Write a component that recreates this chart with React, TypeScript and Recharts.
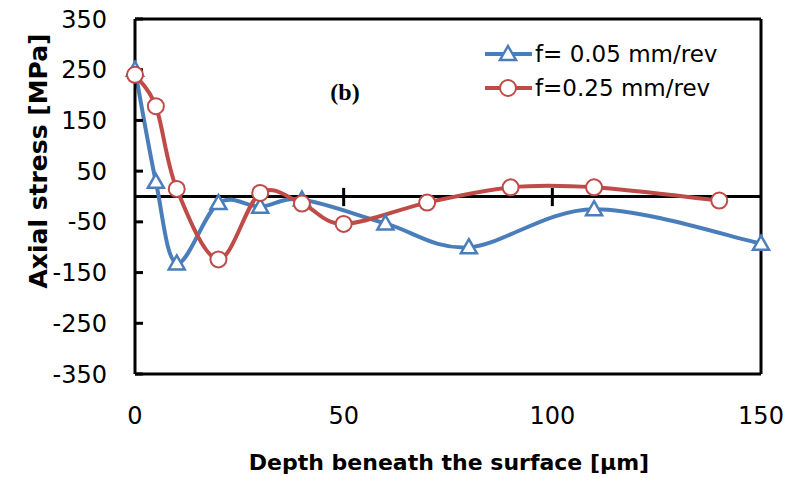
import React from "react";
import { LineChart, Line, XAxis, YAxis, ReferenceLine } from "recharts";

// f = 0.05 mm/rev
const FINE_DEPTH = [0, 5, 10, 20, 30, 40, 60, 80, 110, 150];
const FINE_STRESS = [250, 29, -132, -13, -20, -6, -53, -100, -25, -93];

// f = 0.25 mm/rev
const COARSE_DEPTH = [0, 5, 10, 20, 30, 40, 50, 70, 90, 110, 140];
const COARSE_STRESS = [240, 178, 15, -124, 7, -14, -54, -12, 18, 18, -8];

const X_TICKS = [0, 50, 100, 150];
const Y_TICKS = [350, 250, 150, 50, -50, -150, -250, -350];
const ZERO_AXIS_TICKS = [50, 100];

const BLUE = "#4A7EBB";
const RED = "#BE4B48";
const TICK_FONT = { fontFamily: "DejaVu Sans", fontSize: 24, fill: "#000" };

const fineData = FINE_DEPTH.map((d, i) => ({ depth: d, stress: FINE_STRESS[i] }));
const coarseData = COARSE_DEPTH.map((d, i) => ({ depth: d, stress: COARSE_STRESS[i] }));

// Excel-style smoothed line (Catmull-Rom through every point)
function excelSmooth(context: any) {
  let pts: number[][] = [];
  return {
    areaStart() {},
    areaEnd() {},
    lineStart() {
      pts = [];
    },
    point(x: number, y: number) {
      pts.push([+x, +y]);
    },
    lineEnd() {
      if (!pts.length) return;
      context.moveTo(pts[0][0], pts[0][1]);
      for (let i = 0; i < pts.length - 1; i++) {
        const p0 = pts[Math.max(i - 1, 0)];
        const p1 = pts[i];
        const p2 = pts[i + 1];
        const p3 = pts[Math.min(i + 2, pts.length - 1)];
        context.bezierCurveTo(
          p1[0] + (p2[0] - p0[0]) / 6,
          p1[1] + (p2[1] - p0[1]) / 6,
          p2[0] - (p3[0] - p1[0]) / 6,
          p2[1] - (p3[1] - p1[1]) / 6,
          p2[0],
          p2[1]
        );
      }
    },
  };
}

const Triangle = ({ cx, cy }: { cx: number; cy: number }) => (
  <path
    d={`M${cx},${cy - 8}L${cx + 8},${cy + 6}L${cx - 8},${cy + 6}Z`}
    fill="#fff"
    stroke={BLUE}
    strokeWidth={2.5}
  />
);

const Circle = ({ cx, cy }: { cx: number; cy: number }) => (
  <circle cx={cx} cy={cy} r={8} fill="#fff" stroke={RED} strokeWidth={2} />
);

const SERIES = [
  { name: "f= 0.05 mm/rev", color: BLUE, Marker: Triangle },
  { name: "f=0.25 mm/rev", color: RED, Marker: Circle },
];

const LegendBox = () => (
  <div
    style={{
      position: "absolute",
      left: 485,
      top: 37,
      fontFamily: "DejaVu Sans",
      fontSize: 23,
      color: "#000",
    }}
  >
    {SERIES.map((s) => (
      <div key={s.name} style={{ display: "flex", alignItems: "center", height: 34 }}>
        <svg width={50} height={22}>
          <line x1={0} y1={11} x2={47} y2={11} stroke={s.color} strokeWidth={4} />
          <s.Marker cx={23} cy={11} />
        </svg>
        <span>{s.name}</span>
      </div>
    ))}
  </div>
);

export default function App() {
  return (
    <div style={{ position: "absolute", left: 0, top: 0, width: 789, height: 478, background: "#fff" }}>
      <LineChart width={789} height={478} margin={{ top: 19, right: 28, bottom: 44, left: 0 }}>
        <XAxis
          type="number"
          dataKey="depth"
          domain={[0, 150]}
          ticks={X_TICKS}
          allowDuplicatedCategory={false}
          height={60}
          tickLine={false}
          tickSize={0}
          tickMargin={33}
          axisLine={{ stroke: "#000", strokeWidth: 3 }}
          tick={TICK_FONT}
        />
        <YAxis
          type="number"
          domain={[-350, 350]}
          ticks={Y_TICKS}
          width={135}
          tickSize={-8}
          tickMargin={36}
          tickLine={{ stroke: "#000", strokeWidth: 3 }}
          axisLine={{ stroke: "#000", strokeWidth: 3 }}
          tick={TICK_FONT}
        />
        <ReferenceLine y={350} stroke="#000" strokeWidth={3} />
        <ReferenceLine x={150} stroke="#000" strokeWidth={3} />
        <ReferenceLine y={0} stroke="#000" strokeWidth={3} />
        {ZERO_AXIS_TICKS.map((t) => (
          <ReferenceLine
            key={t}
            segment={[
              { x: t, y: -19 },
              { x: t, y: 17 },
            ]}
            stroke="#000"
            strokeWidth={3}
          />
        ))}
        <Line
          data={fineData}
          dataKey="stress"
          name="f= 0.05 mm/rev"
          type={excelSmooth as any}
          stroke={BLUE}
          strokeWidth={4}
          dot={(p: any) => <Triangle key={`t${p.index}`} cx={p.cx} cy={p.cy} />}
          isAnimationActive={false}
        />
        <Line
          data={coarseData}
          dataKey="stress"
          name="f=0.25 mm/rev"
          type={excelSmooth as any}
          stroke={RED}
          strokeWidth={4}
          dot={(p: any) => <Circle key={`c${p.index}`} cx={p.cx} cy={p.cy} />}
          isAnimationActive={false}
        />
      </LineChart>
      <LegendBox />
      <div
        style={{
          position: "absolute",
          left: 38,
          top: 161,
          transform: "translate(-50%, -50%) rotate(-90deg)",
          whiteSpace: "nowrap",
          fontFamily: "DejaVu Sans",
          fontWeight: "bold",
          fontSize: 25,
        }}
      >
        Axial stress [MPa]
      </div>
      <div
        style={{
          position: "absolute",
          left: 449,
          top: 462,
          transform: "translate(-50%, -50%)",
          whiteSpace: "nowrap",
          fontFamily: "DejaVu Sans",
          fontWeight: "bold",
          fontSize: 22,
        }}
      >
        Depth beneath the surface [μm]
      </div>
      <div
        style={{
          position: "absolute",
          left: 345,
          top: 92,
          transform: "translate(-50%, -50%)",
          fontFamily: "Liberation Serif",
          fontWeight: "bold",
          fontSize: 24,
        }}
      >
        (b)
      </div>
    </div>
  );
}
